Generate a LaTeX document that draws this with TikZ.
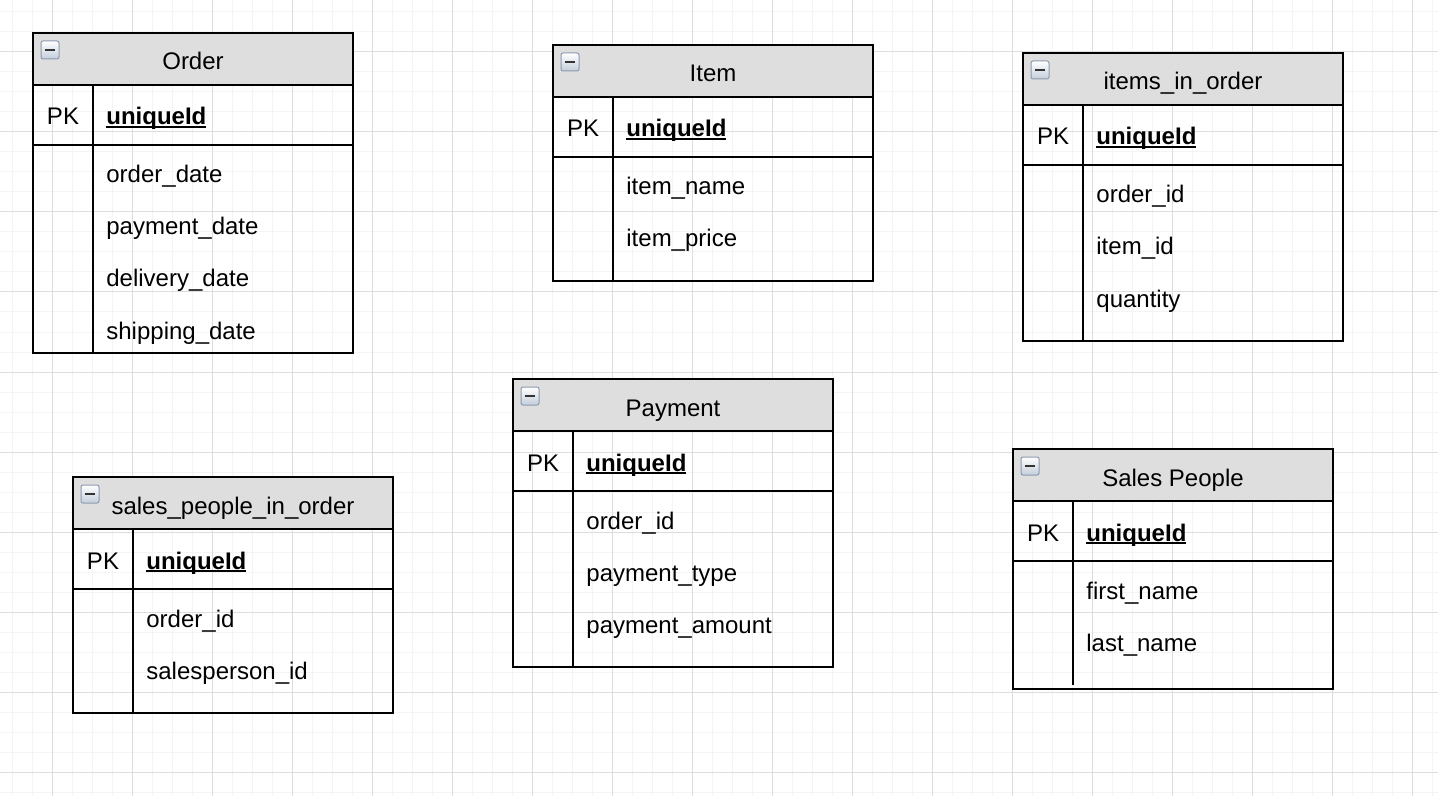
\documentclass[tikz,border=0pt]{standalone}
\usepackage{fontspec}
\setmainfont{Liberation Sans}
\usetikzlibrary{calc}

\definecolor{gridminor}{HTML}{F4F4F4}
\definecolor{gridmajor}{HTML}{DDDDDD}
\definecolor{headfill}{HTML}{DEDEDE}
\definecolor{iconedge}{HTML}{8C9BB0}
\definecolor{iconfill}{HTML}{C3CDDA}

\tikzset{
  minorline/.style={draw=gridminor, line width=0.5pt},
  majorline/.style={draw=gridmajor, line width=0.5pt},
  tableedge/.style={draw=black, line width=1pt},
  collapsebox/.style={draw=iconedge, line width=0.5pt, rounded corners=1pt, top color=white, bottom color=iconfill},
  collapsebar/.style={draw=black!80, line width=1.2pt},
  fieldtext/.style={inner sep=0pt, font=\fontsize{12}{14}\selectfont}
}

\newcommand{\pkname}[1]{\setbox0\hbox{\bfseries #1}\rlap{\rule[-1.6pt]{\wd0}{1pt}}\box0}

\newcommand{\erdtable}[7]{%
  \begin{scope}[shift={(#2,#3)}]
    \fill[headfill] (0,0) rectangle (320,52);
    \draw[tableedge] (0,52) -- (320,52) (0,112) -- (320,112);
    \draw[tableedge] (60,52) -- (60,#6);
    \draw[tableedge] (0,0) rectangle (320,#7);
    \draw[collapsebox] (8,8) rectangle (26,26);
    \draw[collapsebar] (12,17) -- (22,17);
    \node[fieldtext, anchor=base] (#1-title) at (160,37) {#4};
    \node[fieldtext, anchor=base] (#1-pk) at (30,92) {PK};
    \node[fieldtext, anchor=base west] (#1-key) at (73,92) {\pkname{uniqueId}};
    \foreach \f [count=\n] in {#5}
      \node[fieldtext, anchor=base west] (#1-f\n) at (73,{98+52*\n}) {\f};
  \end{scope}}

\begin{document}
\begin{tikzpicture}[x=0.5pt, y=-0.5pt]
\useasboundingbox (0,0) rectangle (1438,796);
\fill[white] (0,0) rectangle (1438,796);
\foreach \gx in {12,32,...,1432} \draw[minorline] (\gx,0) -- (\gx,796);
\foreach \gy in {12,32,...,792} \draw[minorline] (0,\gy) -- (1438,\gy);
\foreach \gx in {52,132,...,1412} \draw[majorline] (\gx,0) -- (\gx,796);
\foreach \gy in {52,132,...,772} \draw[majorline] (0,\gy) -- (1438,\gy);

\erdtable{order}{33}{33}{Order}{order\_date,payment\_date,delivery\_date,shipping\_date}{320}{320}
\erdtable{item}{553}{45}{Item}{item\_name,item\_price}{236}{236}
\erdtable{itemsinorder}{1023}{53}{items\_in\_order}{order\_id,item\_id,quantity}{288}{288}
\erdtable{payment}{513}{379}{Payment}{order\_id,payment\_type,payment\_amount}{288}{288}
\erdtable{salesinorder}{73}{477}{sales\_people\_in\_order}{order\_id,salesperson\_id}{236}{236}
\erdtable{salespeople}{1013}{449}{Sales People}{first\_name,last\_name}{236}{240}
\end{tikzpicture}
\end{document}
